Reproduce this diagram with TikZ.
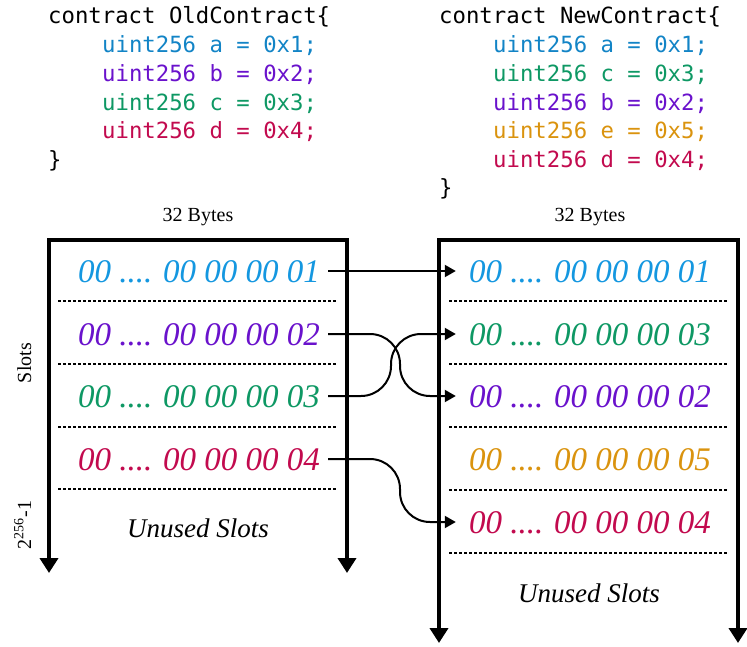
\documentclass[tikz,border=0pt]{standalone}
\usepackage{fontspec}
\setmainfont{Liberation Serif}
\setmonofont{DejaVu Sans Mono}
\usetikzlibrary{arrows.meta}
\definecolor{cblue}{HTML}{1284C6}
\definecolor{vblue}{HTML}{1497E0}
\definecolor{cpurple}{HTML}{6A12CC}
\definecolor{cgreen}{HTML}{0E9864}
\definecolor{cred}{HTML}{C20A4E}
\definecolor{corange}{HTML}{DA930E}
\begin{document}
\begin{tikzpicture}[x=1pt,y=-1pt,
  code/.style={anchor=base west,inner sep=0pt,font=\fontsize{22.3}{26}\selectfont\ttfamily},
  val/.style={anchor=base,inner sep=0pt,text height=22pt,text depth=0pt,font=\fontsize{33}{36}\selectfont\itshape},
  unused/.style={anchor=base,inner sep=0pt,font=\fontsize{27}{30}\selectfont\itshape},
  small/.style={anchor=base,inner sep=0pt,font=\fontsize{20}{24}\selectfont},
  box/.style={line width=4pt,miter limit=10,{Triangle[width=18pt,length=15pt]}-{Triangle[width=18pt,length=15pt]}},
  sep/.style={line width=1.5pt,dash pattern=on 3pt off 2pt},
  conn/.style={line width=2pt,-{Triangle[width=12pt,length=11pt]},rounded corners=30pt}]
\useasboundingbox (0,0) rectangle (747,646);

% code, old
\node[code] (o0) at (48,23) {contract OldContract\{};
\node[code,text=cblue] (o1) at (102,52) {uint256 a = 0x1;};
\node[code,text=cpurple] (o2) at (102,81) {uint256 b = 0x2;};
\node[code,text=cgreen] (o3) at (102,110) {uint256 c = 0x3;};
\node[code,text=cred] (o4) at (102,138) {uint256 d = 0x4;};
\node[code] (o5) at (48,167) {\}};
% code, new
\node[code] (n0) at (439,23) {contract NewContract\{};
\node[code,text=cblue] (n1) at (493,52) {uint256 a = 0x1;};
\node[code,text=cgreen] (n2) at (493,81) {uint256 c = 0x3;};
\node[code,text=cpurple] (n3) at (493,110) {uint256 b = 0x2;};
\node[code,text=corange] (n4) at (493,138) {uint256 e = 0x5;};
\node[code,text=cred] (n5) at (493,167) {uint256 d = 0x4;};
\node[code] (n6) at (439,195) {\}};

% headers
\node[small] (hb1) at (198,221) {32 Bytes};
\node[small] (hb2) at (590,221) {32 Bytes};
\node[small,rotate=90,anchor=base] (sl) at (31,363) {Slots};
\node[small,rotate=90,anchor=base] (mx) at (31,525) {2\textsuperscript{256}-1};

% boxes
\draw[box] (49,573) |- (347,240) -- (347,573);
\draw[box] (439,643) |- (738,240) -- (738,643);

% separators
\foreach \y in {301,364,427,489} \draw[sep] (58,\y) -- (337,\y);
\foreach \y in {301,364,427,490,553} \draw[sep] (449,\y) -- (728,\y);

% values, old
\node[val,text=vblue] (l1) at (199,282) {00 .... 00 00 00 01};
\node[val,text=cpurple] (l2) at (199,345) {00 .... 00 00 00 02};
\node[val,text=cgreen] (l3) at (199,407) {00 .... 00 00 00 03};
\node[val,text=cred] (l4) at (199,470) {00 .... 00 00 00 04};
\node[unused] (lu) at (198,537) {Unused Slots};
% values, new
\node[val,text=vblue] (r1) at (590,282) {00 .... 00 00 00 01};
\node[val,text=cgreen] (r2) at (590,345) {00 .... 00 00 00 03};
\node[val,text=cpurple] (r3) at (590,407) {00 .... 00 00 00 02};
\node[val,text=corange] (r4) at (590,470) {00 .... 00 00 00 05};
\node[val,text=cred] (r5) at (590,533) {00 .... 00 00 00 04};
\node[unused] (ru) at (589,602) {Unused Slots};

% connectors
\coordinate (ma) at (400,0);
\coordinate (mb) at (391,0);
\draw[conn] ([xshift=8pt]l1.east) -- ([xshift=-13pt]r1.west);
\draw[conn] ([xshift=8pt]l2.east) -- (l2.east -| ma) -- (r3.west -| ma) -- ([xshift=-13pt]r3.west);
\draw[conn] ([xshift=8pt]l3.east) -- (l3.east -| mb) -- (r2.west -| mb) -- ([xshift=-13pt]r2.west);
\draw[conn] ([xshift=8pt]l4.east) -- (l4.east -| ma) -- (r5.west -| ma) -- ([xshift=-13pt]r5.west);
\end{tikzpicture}
\end{document}
